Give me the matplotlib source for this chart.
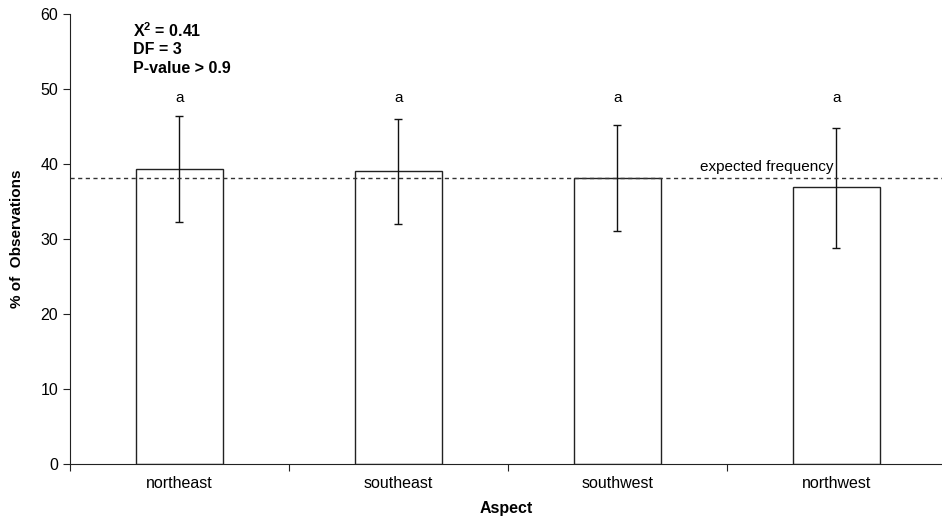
import numpy as np
import matplotlib.pyplot as plt

plt.rcParams['font.family'] = ['Liberation Sans', 'DejaVu Sans']
plt.rcParams['mathtext.fontset'] = 'custom'
plt.rcParams['mathtext.bf'] = 'Liberation Sans:bold'
plt.rcParams['mathtext.rm'] = 'Liberation Sans'

# data
aspects = ['northeast', 'southeast', 'southwest', 'northwest']
pct_obs = [39.3, 39.1, 38.2, 36.9]
err_low = [7.0, 7.1, 7.1, 8.1]
err_high = [7.1, 6.9, 7.0, 7.9]
letters = ['a', 'a', 'a', 'a']
expected = 38.1

fig = plt.figure(figsize=(9.42, 5.18), dpi=100)
ax = fig.add_axes([70/942, 54/518, 872/942, 450/518])

x = np.arange(len(aspects))
ax.bar(x, pct_obs, width=0.4, color='white', edgecolor='#222222', linewidth=1.0)
ax.errorbar(x, pct_obs, yerr=[err_low, err_high], fmt='none', ecolor='#111111',
            elinewidth=1.0, capsize=3, capthick=1.0)

# letters above bars
for xi, l in zip(x, letters):
    ax.text(xi, 48.8, l, ha='center', va='center', fontsize=11)

# expected frequency line
ax.axhline(expected, color='#333333', linestyle=(0, (3, 2.5)), linewidth=1.0)
ax.text(2.68, expected + 0.6, 'expected frequency', ha='center', va='bottom', fontsize=11)

# stats box
ax.text(0.072, 0.962, r'$\mathbf{X^2}$ = 0.41', transform=ax.transAxes, fontsize=11.5,
        fontweight='bold', va='center')
ax.text(0.072, 0.920, 'DF = 3', transform=ax.transAxes, fontsize=11.5,
        fontweight='bold', va='center')
ax.text(0.072, 0.878, 'P-value > 0.9', transform=ax.transAxes, fontsize=11.5,
        fontweight='bold', va='center')

ax.set_xlim(-0.5, 3.482)
ax.set_ylim(0, 60)
ax.set_yticks(np.arange(0, 61, 10))
ax.set_xticks([-0.5, 0.5, 1.5, 2.5])
ax.set_xticklabels([])
ax.set_xticks(x, minor=True)
ax.set_xticklabels(aspects, minor=True)
ax.tick_params(axis='x', which='minor', length=0, pad=9, labelsize=11.5)
ax.tick_params(axis='both', which='major', direction='out', length=5,
               color='#222222')
ax.tick_params(axis='y', labelsize=11.5)

for s in ['top', 'right']:
    ax.spines[s].set_visible(False)
for s in ['left', 'bottom']:
    ax.spines[s].set_color('#222222')

ax.set_xlabel('Aspect', fontweight='bold', fontsize=11.5, labelpad=7)
ax.set_ylabel('% of  Observations', fontweight='bold', fontsize=11, labelpad=12)

fig.savefig('out.png', dpi=100)
